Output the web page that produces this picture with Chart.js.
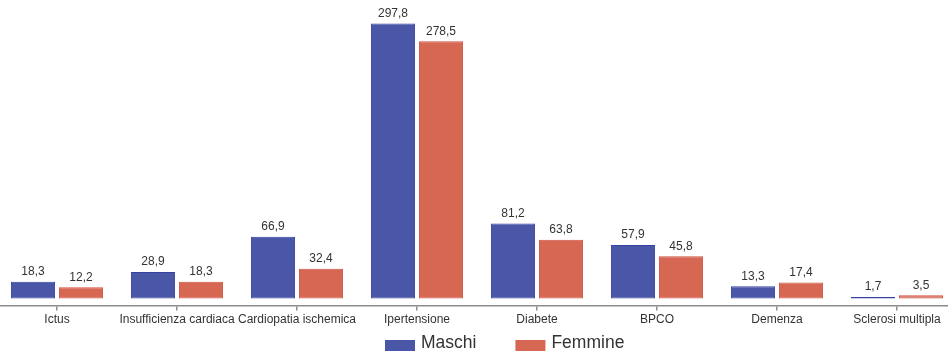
<!DOCTYPE html>
<html>
<head>
<meta charset="utf-8">
<script src="https://cdn.jsdelivr.net/npm/chart.js@4/dist/chart.umd.min.js"></script>
<style>
  html, body { margin: 0; padding: 0; background: #fff; overflow: hidden; }
  #wrap { position: absolute; left: -3px; top: 0; width: 960px; height: 353px; }
</style>
</head>
<body>
<div id="wrap"><canvas id="c" width="960" height="353"></canvas></div>
<script>
const categories = ['Ictus', 'Insufficienza cardiaca', 'Cardiopatia ischemica', 'Ipertensione', 'Diabete', 'BPCO', 'Demenza', 'Sclerosi multipla'];
const maschi = [18.3, 28.9, 66.9, 297.8, 81.2, 57.9, 13.3, 1.7];
const femmine = [12.2, 18.3, 32.4, 278.5, 63.8, 45.8, 17.4, 3.5];

const FONT = "'Liberation Sans', Arial, sans-serif";
const fmt = v => v.toFixed(1).replace('.', ',');

// value labels above each bar
const valueLabels = {
  id: 'valueLabels',
  afterDatasetsDraw(chart) {
    const ctx = chart.ctx;
    ctx.save();
    ctx.font = '12px ' + FONT;
    ctx.fillStyle = '#333';
    ctx.textAlign = 'center';
    ctx.textBaseline = 'bottom';
    chart.data.datasets.forEach((ds, i) => {
      chart.getDatasetMeta(i).data.forEach((bar, j) => {
        ctx.fillText(fmt(ds.data[j]), bar.x, bar.y - 4);
      });
    });
    ctx.restore();
  }
};

// legend row at the bottom, built from the datasets
const bottomLegend = {
  id: 'bottomLegend',
  afterDraw(chart) {
    const ctx = chart.ctx;
    const boxW = 30, boxH = 11, textGap = 6, itemGap = 39, startX = 388, boxTop = 340, baseline = 347.5;
    ctx.save();
    ctx.font = '17.5px ' + FONT;
    let x = startX;
    chart.data.datasets.forEach(ds => {
      ctx.fillStyle = ds.backgroundColor;
      ctx.fillRect(x, boxTop, boxW, boxH);
      ctx.fillStyle = '#333';
      ctx.textAlign = 'left';
      ctx.textBaseline = 'alphabetic';
      const tx = x + boxW + textGap;
      ctx.fillText(ds.label, tx, baseline);
      x = tx + ctx.measureText(ds.label).width + itemGap;
    });
    ctx.restore();
  }
};

new Chart(document.getElementById('c'), {
  type: 'bar',
  data: {
    labels: categories,
    datasets: [
      { label: 'Maschi', data: maschi, backgroundColor: '#4a57a6', borderColor: '#3442a0', borderWidth: 1, borderSkipped: false },
      { label: 'Femmine', data: femmine, backgroundColor: '#d66753', borderColor: '#cf5240', borderWidth: 1, borderSkipped: false }
    ]
  },
  options: {
    responsive: false,
    animation: false,
    events: [],
    layout: { padding: { top: 0, left: 0, right: 0, bottom: 24 } },
    datasets: { bar: { categoryPercentage: 0.8, barPercentage: 0.92 } },
    scales: {
      x: {
        grid: { display: true, drawOnChartArea: false, offset: false, tickLength: 5, color: '#8c8c8c', lineWidth: 1.5 },
        border: { display: true, color: '#8c8c8c', width: 1.5 },
        ticks: { color: '#333', font: { family: FONT, size: 12 }, padding: 2, maxRotation: 0, autoSkip: false }
      },
      y: {
        display: false,
        min: -7.6,
        max: 323.2
      }
    },
    plugins: {
      legend: { display: false },
      tooltip: { enabled: false }
    }
  },
  plugins: [valueLabels, bottomLegend]
});
</script>
</body>
</html>
